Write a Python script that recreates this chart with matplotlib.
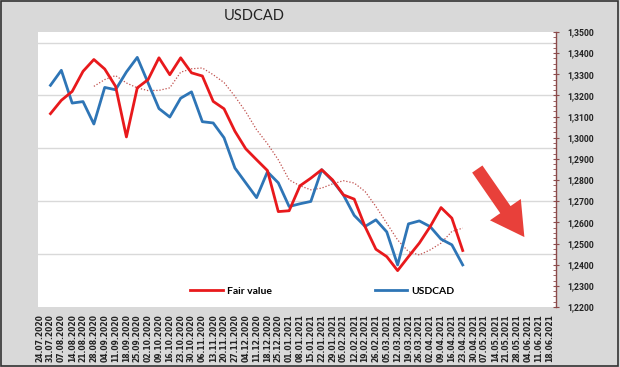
import numpy as np
import pandas as pd
import matplotlib
matplotlib.use('Agg')
import matplotlib.pyplot as plt
from matplotlib.ticker import MultipleLocator, FuncFormatter
from matplotlib.patches import Rectangle

# weekly tick labels
week_labels = pd.date_range('2020-07-24', periods=48, freq='7D').strftime('%d.%m.%Y').tolist()

# series values, first point on 31.07.2020
usdcad = [1.3248, 1.3319, 1.3164, 1.3171, 1.3065, 1.3238, 1.3227, 1.3311, 1.3380, 1.3259,
          1.3138, 1.3098, 1.3187, 1.3217, 1.3076, 1.3070, 1.3000, 1.2857, 1.2787, 1.2717,
          1.2839, 1.2787, 1.2675, 1.2688, 1.2699, 1.2849, 1.2797, 1.2730, 1.2633, 1.2581,
          1.2612, 1.2555, 1.2399, 1.2593, 1.2607, 1.2580, 1.2521, 1.2494, 1.2399]
fair_value = [1.3114, 1.3177, 1.3219, 1.3314, 1.3370, 1.3325, 1.3243, 1.3004, 1.3236, 1.3275,
              1.3378, 1.3298, 1.3378, 1.3307, 1.3292, 1.3172, 1.3137, 1.3031, 1.2948, 1.2896,
              1.2845, 1.2651, 1.2655, 1.2773, 1.2809, 1.2849, 1.2801, 1.2730, 1.2710, 1.2580,
              1.2473, 1.2438, 1.2372, 1.2438, 1.2502, 1.2580, 1.2670, 1.2620, 1.2467]
# trend line (dotted), starts on 28.08.2020
fair_trend = [1.3243, 1.3275, 1.3294, 1.3259, 1.3236, 1.3223, 1.3224, 1.3236, 1.3310, 1.3326,
              1.3330, 1.3298, 1.3261, 1.3196, 1.3123, 1.3038, 1.2972, 1.2896, 1.2801, 1.2773,
              1.2754, 1.2762, 1.2782, 1.2797, 1.2786, 1.2746, 1.2675, 1.2596, 1.2517, 1.2462,
              1.2446, 1.2470, 1.2502, 1.2557, 1.2573]

x_main = np.arange(1, 1 + len(usdcad))
x_trend = np.arange(5, 5 + len(fair_trend))

fig = plt.figure(figsize=(6.2, 3.67), dpi=100, facecolor='#d9d9d9')
ax = fig.add_axes([38 / 620, 1 - 307 / 367, 518 / 620, 275 / 367])
ax.set_facecolor('white')

# grid lines
for g in [1.245, 1.27, 1.295, 1.32, 1.345]:
    ax.axhline(g, color='#d9d9d9', lw=1, zorder=0)

ax.plot(x_trend, fair_trend, color='#c0504d', lw=0.9, ls=(0, (1, 1.5)), zorder=2)
ax.plot(x_main, usdcad, color='#2e75b6', lw=2, label='USDCAD', zorder=3)
ax.plot(x_main, fair_value, color='#e8191c', lw=2, label='Fair value', zorder=4)

ax.set_xlim(-0.15, 47.6)
ax.set_ylim(1.22, 1.35)

ax.set_xticks(np.arange(len(week_labels)))
ax.set_xticklabels(week_labels, rotation=90, fontsize=5.5, fontweight='bold',
                   family='DejaVu Sans', color='#222222')
ax.tick_params(axis='x', length=0, pad=5)

ax.yaxis.tick_right()
ax.yaxis.set_major_locator(MultipleLocator(0.01))
ax.yaxis.set_minor_locator(MultipleLocator(0.0025))
ax.yaxis.set_major_formatter(FuncFormatter(lambda v, p: f'{v:.4f}'.replace('.', ',')))
ax.tick_params(axis='y', which='major', direction='inout', length=4, color='#8b4a4a',
               pad=6, labelsize=6.2)
ax.tick_params(axis='y', which='minor', direction='in', length=2, color='#8b4a4a')
for lab in ax.get_yticklabels():
    lab.set_fontweight('bold')
    lab.set_family('Roboto')
    lab.set_color('#222222')

for s in ['left', 'top', 'bottom']:
    ax.spines[s].set_visible(False)
ax.spines['right'].set_color('#8b4a4a')
ax.spines['right'].set_linewidth(1)

# arrow
ax.annotate('', xy=(0.942, 0.246), xytext=(0.845, 0.51), xycoords='axes fraction',
            arrowprops=dict(arrowstyle='simple,head_length=1.6,head_width=1.8,tail_width=0.6',
                            color='#e8403a', lw=0, mutation_scale=15))

# legend
h, l = ax.get_legend_handles_labels()
leg = fig.legend([h[1], h[0]], [l[1], l[0]], loc='center', bbox_to_anchor=(0.52, 0.207),
                 ncol=2, frameon=False, handlelength=3.1, handletextpad=0.4,
                 columnspacing=9.9, prop={'family': 'Lato', 'weight': 'bold', 'size': 7.5})

fig.text(254 / 620, 1 - 16 / 367, 'USDCAD', ha='center', va='center', fontsize=10.5,
         family='Lato', color='#222222')

fig.patches.append(Rectangle((0.002, 0.003), 0.995, 0.994, transform=fig.transFigure,
                             fill=False, edgecolor='#333333', lw=1.2))

fig.savefig('out.png', dpi=100, facecolor=fig.get_facecolor())
